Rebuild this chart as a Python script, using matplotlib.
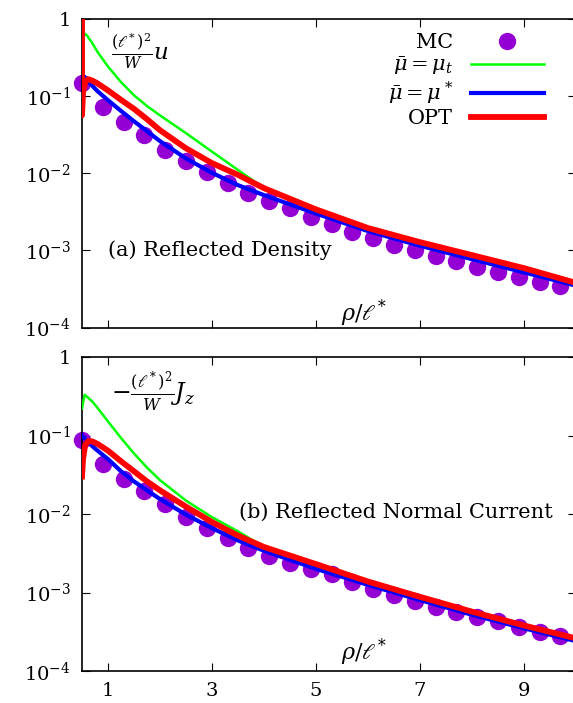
import numpy as np
import matplotlib
matplotlib.use('Agg')
import matplotlib.pyplot as plt
from matplotlib.ticker import FixedLocator, FuncFormatter, NullLocator

# Fuente serif para texto y formulas
plt.rcParams['font.family'] = 'DejaVu Serif'
plt.rcParams['mathtext.fontset'] = 'dejavuserif'

# --- Datos: Monte Carlo (puntos) --------------------------------------------------------
x_mc = [0.5, 0.9, 1.3, 1.7, 2.1, 2.5, 2.9, 3.3, 3.7, 4.1, 4.5, 4.9, 5.3,
        5.7, 6.1, 6.5, 6.9, 7.3, 7.7, 8.1, 8.5, 8.9, 9.3, 9.7]
u_mc = [0.145, 0.071, 0.046, 0.031, 0.020, 0.0142, 0.0103, 0.0074, 0.0055, 0.0044,
        0.0035, 0.0027, 0.0022, 0.00174, 0.00145, 0.00118, 0.00102, 0.00085, 0.00073,
        0.00061, 0.00053, 0.00046, 0.00039, 0.00035]
jz_mc = [0.087, 0.043, 0.0276, 0.0194, 0.0135, 0.0092, 0.0066, 0.0049, 0.0037, 0.0029,
         0.0024, 0.0020, 0.0017, 0.00136, 0.00112, 0.00093, 0.00077, 0.00066, 0.00057,
         0.00049, 0.00043, 0.00036, 0.00031, 0.00028]

# --- Datos: curvas teoricas --------------------------------------------------------------
x_curva = [0.5, 0.55, 0.6, 0.7, 0.8, 1.0, 1.25, 1.5, 1.75, 2.0, 2.5, 3.0, 3.5, 4.0,
           5.0, 6.0, 7.0, 8.0, 9.0, 10.0]
u_mut = [0.60, 0.645, 0.60, 0.48, 0.37, 0.24, 0.151, 0.102, 0.074, 0.056, 0.033, 0.019,
         0.011, 0.0064, 0.0033, 0.0019, 0.00126, 0.00085, 0.00058, 0.00037]
u_mustar = [0.19, 0.175, 0.16, 0.135, 0.115, 0.088, 0.064, 0.047, 0.035, 0.026, 0.0155,
            0.0101, 0.0070, 0.0052, 0.0030, 0.00178, 0.00115, 0.00077, 0.00052, 0.00035]
jz_mut = [0.22, 0.33, 0.31, 0.27, 0.224, 0.151, 0.093, 0.059, 0.039, 0.027, 0.0148, 0.0091,
          0.0060, 0.0038, 0.00225, 0.00135, 0.00086, 0.00056, 0.00037, 0.000255]
jz_mustar = [0.10, 0.092, 0.085, 0.073, 0.064, 0.050, 0.035, 0.026, 0.020, 0.0155, 0.0098,
             0.0066, 0.0046, 0.0034, 0.0020, 0.00125, 0.00080, 0.00052, 0.00035, 0.00024]

# OPT: tiene un pico en rho = 0.5
x_opt_u = [0.5, 0.5, 0.52, 0.56, 0.62, 0.7, 0.8, 1.0, 1.25, 1.5, 1.75, 2.0, 2.5, 3.0,
           3.5, 4.0, 5.0, 6.0, 7.0, 8.0, 9.0, 10.0]
u_opt = [3.0, 0.056, 0.11, 0.15, 0.165, 0.158, 0.145, 0.118, 0.089, 0.068, 0.050, 0.036,
         0.021, 0.0135, 0.0095, 0.0064, 0.0034, 0.00195, 0.00128, 0.00087, 0.00059, 0.00038]
x_opt_jz = [0.5, 0.52, 0.56, 0.62, 0.7, 0.8, 1.0, 1.25, 1.5, 1.75, 2.0, 2.5, 3.0, 3.5,
            4.0, 5.0, 6.0, 7.0, 8.0, 9.0, 10.0]
jz_opt = [0.030, 0.05, 0.075, 0.085, 0.084, 0.078, 0.064, 0.047, 0.035, 0.026, 0.020,
          0.0124, 0.0079, 0.0053, 0.0038, 0.0023, 0.00138, 0.00088, 0.00057, 0.00038, 0.00026]

x_ticks = [1, 3, 5, 7, 9]
y_ticks = [1e-4, 1e-3, 1e-2, 1e-1, 1]

c_mc, c_mut, c_mustar, c_opt = '#9400d3', '#00ff00', '#0000ff', '#ff0000'


def fmt_log(v, pos):
    e = int(round(np.log10(v)))
    return '1' if e == 0 else r'$10^{%d}$' % e


def panel(ax, y_mc, y_mut, y_mustar, x_opt, y_opt):
    ax.plot(x_mc, y_mc, 'o', color=c_mc, ms=12.5, mec='none', clip_on=False, label='MC', zorder=2)
    ax.plot(x_curva, y_mut, color=c_mut, lw=1.8, label=r'$\bar{\mu}=\mu_t$', zorder=3)
    ax.plot(x_curva, y_mustar, color=c_mustar, lw=3.0, label=r'$\bar{\mu}=\mu^*$', zorder=4)
    ax.plot(x_opt, y_opt, color=c_opt, lw=4.2, label='OPT', zorder=5)
    ax.set_yscale('log')
    ax.set_xlim(0.5, 10)
    ax.set_ylim(1e-4, 1)
    ax.xaxis.set_major_locator(FixedLocator(x_ticks))
    ax.xaxis.set_minor_locator(NullLocator())
    ax.yaxis.set_major_locator(FixedLocator(y_ticks))
    ax.yaxis.set_minor_locator(NullLocator())
    ax.yaxis.set_major_formatter(FuncFormatter(fmt_log))
    ax.tick_params(direction='in', length=6, width=0.8, top=True, right=True, labelsize=14, pad=8)
    for s in ax.spines.values():
        s.set_linewidth(1.2)


fig = plt.figure(figsize=(5.73, 7.03), dpi=100)
ax1 = fig.add_axes([82/573, 1 - 327.7/703, 494/573, 309/703])
ax2 = fig.add_axes([82/573, 1 - 671/703, 494/573, 314/703])

# --- (a) Densidad reflejada ---
panel(ax1, u_mc, u_mut, u_mustar, x_opt_u, u_opt)
ax1.tick_params(labelbottom=False)
ax1.legend(loc='upper right', bbox_to_anchor=(0.956, 0.988), frameon=False, markerfirst=False,
           handlelength=3.5, handletextpad=0.85, labelspacing=0.12, borderpad=0, fontsize=15,
           numpoints=1)
ax1.text(0.059, 0.895, r'$\frac{(\ell^*)^2}{W}u$', transform=ax1.transAxes, fontsize=16.5,
         ha='left', va='center')
ax1.text(0.053, 0.251, '(a) Reflected Density', transform=ax1.transAxes, fontsize=15,
         ha='left', va='center')
ax1.text(0.571, 0.048, r'$\rho/\ell^*$', transform=ax1.transAxes, fontsize=16,
         ha='center', va='center')

# --- (b) Corriente normal reflejada ---
panel(ax2, jz_mc, jz_mut, jz_mustar, x_opt_jz, jz_opt)
ax2.text(0.059, 0.889, r'$-\frac{(\ell^*)^2}{W}J_z$', transform=ax2.transAxes, fontsize=17,
         ha='left', va='center')
ax2.text(0.318, 0.505, '(b) Reflected Normal Current', transform=ax2.transAxes, fontsize=15,
         ha='left', va='center')
ax2.text(0.571, 0.06, r'$\rho/\ell^*$', transform=ax2.transAxes, fontsize=16,
         ha='center', va='center')

fig.savefig('out.png', dpi=100)
